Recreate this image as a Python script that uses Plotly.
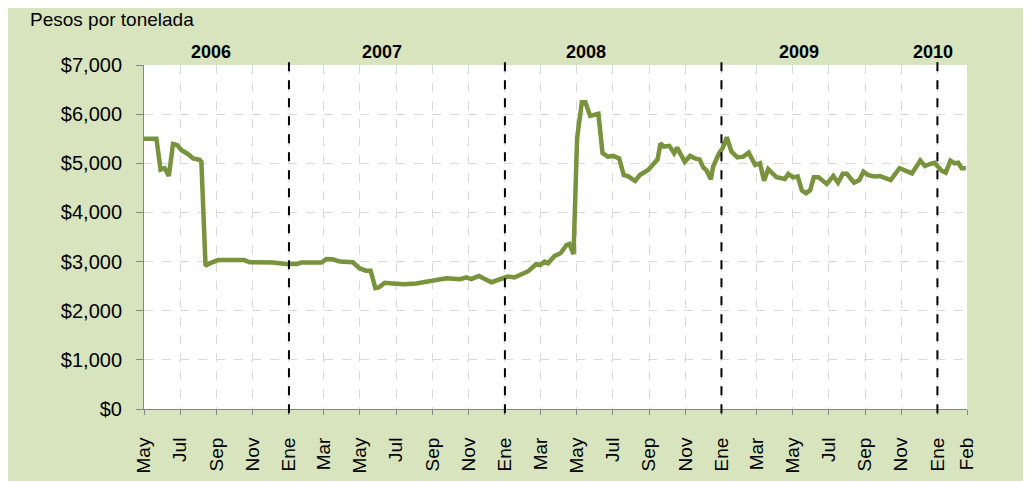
import plotly.graph_objects as go

# ---- data ----
dates = [
    "2006-05-01", "2006-05-22", "2006-05-29", "2006-06-05", "2006-06-12", "2006-06-19",
    "2006-06-26", "2006-07-03", "2006-07-14", "2006-07-23", "2006-08-03", "2006-08-06",
    "2006-08-13", "2006-08-20", "2006-09-03", "2006-10-04", "2006-10-10", "2006-10-17",
    "2006-10-27", "2006-12-05", "2006-12-28", "2007-01-14", "2007-01-22", "2007-02-25",
    "2007-03-05", "2007-03-16", "2007-03-28", "2007-04-19", "2007-04-30", "2007-05-11",
    "2007-05-19", "2007-05-27", "2007-06-02", "2007-06-12", "2007-06-26", "2007-07-13",
    "2007-08-04", "2007-08-21", "2007-09-07", "2007-09-24", "2007-10-17", "2007-10-28",
    "2007-11-05", "2007-11-18", "2007-12-09", "2007-12-26", "2008-01-06", "2008-01-17",
    "2008-01-26", "2008-02-09", "2008-02-23", "2008-03-01", "2008-03-08", "2008-03-14",
    "2008-03-25", "2008-04-04", "2008-04-14", "2008-04-19", "2008-04-26", "2008-05-02",
    "2008-05-10", "2008-05-16", "2008-05-24", "2008-06-07", "2008-06-14", "2008-06-23",
    "2008-07-02", "2008-07-12", "2008-07-20", "2008-07-27", "2008-08-08", "2008-08-16",
    "2008-08-30", "2008-09-08", "2008-09-15", "2008-09-20", "2008-09-26", "2008-10-05",
    "2008-10-13", "2008-10-18", "2008-10-31", "2008-11-09", "2008-11-17", "2008-11-25",
    "2008-12-01", "2008-12-07", "2008-12-14", "2008-12-18", "2008-12-28", "2009-01-03",
    "2009-01-10", "2009-01-18", "2009-01-28", "2009-02-07", "2009-02-16", "2009-02-27",
    "2009-03-07", "2009-03-14", "2009-03-21", "2009-04-04", "2009-04-18", "2009-04-24",
    "2009-05-02", "2009-05-10", "2009-05-17", "2009-05-24", "2009-05-31", "2009-06-06",
    "2009-06-14", "2009-06-28", "2009-07-09", "2009-07-17", "2009-07-25", "2009-08-01",
    "2009-08-13", "2009-08-22", "2009-08-29", "2009-09-06", "2009-09-17", "2009-09-26",
    "2009-10-04", "2009-10-14", "2009-10-29", "2009-11-07", "2009-11-19", "2009-12-03",
    "2009-12-11", "2009-12-19", "2009-12-27", "2010-01-08", "2010-01-15", "2010-01-23",
    "2010-01-30", "2010-02-05", "2010-02-11", "2010-02-18",
]
prices = [
    5500, 5500, 4870, 4900, 4740, 5390,
    5370, 5270, 5190, 5100, 5070, 5030,
    2910, 2965, 3030, 3030, 3020, 3030,
    2985, 2980, 2950, 2950, 2980, 2980,
    3050, 3045, 3000, 2985, 2865, 2815,
    2815, 2460, 2475, 2570, 2555, 2540,
    2555, 2590, 2635, 2660, 2640, 2680,
    2645, 2705, 2580, 2640, 2695, 2675,
    2725, 2800, 2950, 2930, 3000, 2965,
    3115, 3170, 3335, 3360, 3150, 5510,
    6240, 6240, 5965, 6005, 5205, 5135,
    5150, 5100, 4760, 4740, 4640, 4760,
    4865, 5000, 5080, 5405, 5340, 5355,
    5205, 5320, 5030, 5150, 5100, 5080,
    4920, 4850, 4675, 4935, 5205, 5305,
    5530, 5235, 5120, 5135, 5215, 4965,
    5000, 4645, 4880, 4715, 4680, 4785,
    4715, 4730, 4445, 4390, 4455, 4715,
    4715, 4580, 4740, 4605, 4785, 4785,
    4605, 4660, 4830, 4760, 4730, 4740,
    4695, 4660, 4900, 4865, 4795, 5055,
    4945, 4985, 5010, 4850, 4810, 5055,
    5000, 5010, 4900, 4900,
]

tick_dates = [
    "2006-05-01", "2006-07-01", "2006-09-01", "2006-11-01",
    "2007-01-01", "2007-03-01", "2007-05-01", "2007-07-01", "2007-09-01", "2007-11-01",
    "2008-01-01", "2008-03-01", "2008-05-01", "2008-07-01", "2008-09-01", "2008-11-01",
    "2009-01-01", "2009-03-01", "2009-05-01", "2009-07-01", "2009-09-01", "2009-11-01",
    "2010-01-01", "2010-02-20",
]
tick_labels = [
    "May", "Jul", "Sep", "Nov",
    "Ene", "Mar", "May", "Jul", "Sep", "Nov",
    "Ene", "Mar", "May", "Jul", "Sep", "Nov",
    "Ene", "Mar", "May", "Jul", "Sep", "Nov",
    "Ene", "Feb",
]
year_starts = ["2007-01-01", "2008-01-01", "2009-01-01", "2010-01-01"]
year_labels = ["2006", "2007", "2008", "2009", "2010"]
year_label_pos = ["2006-08-23", "2007-06-08", "2008-05-17", "2009-05-12", "2009-12-24"]

y_ticks = [0, 1000, 2000, 3000, 4000, 5000, 6000, 7000]
y_tick_text = ["$0", "$1,000", "$2,000", "$3,000", "$4,000", "$5,000", "$6,000", "$7,000"]

# ---- styling ----
GREEN_BG = "#D7E4BD"
LINE = "#77933C"
FONT = "Liberation Sans, Arial, sans-serif"

fig = go.Figure()
fig.add_trace(go.Scatter(
    x=dates, y=prices, mode="lines",
    line=dict(color=LINE, width=4.5),
    hoverinfo="x+y", showlegend=False,
))

shapes = []
for d in year_starts:
    shapes.append(dict(type="line", xref="x", yref="paper", x0=d, x1=d, y0=-0.012, y1=1.03,
                       line=dict(color="black", width=2, dash="dash"), layer="above"))

annotations = [
    dict(text="Pesos por tonelada", xref="paper", yref="paper", x=-0.1415, y=1.132,
         xanchor="left", yanchor="middle", showarrow=False,
         font=dict(family=FONT, size=19, color="black")),
]
for lbl, pos in zip(year_labels, year_label_pos):
    annotations.append(dict(text="<b>" + lbl + "</b>", xref="x", yref="paper", x=pos, y=1.038,
                            xanchor="center", yanchor="middle", showarrow=False,
                            font=dict(family=FONT, size=18, color="black")))

fig.update_layout(
    width=1031, height=481,
    margin=dict(l=136, r=72, t=57, b=80),
    paper_bgcolor=GREEN_BG,
    plot_bgcolor="white",
    font=dict(family=FONT, color="black"),
    shapes=shapes,
    annotations=annotations,
    xaxis=dict(
        type="date",
        range=["2006-05-01", "2010-02-20"],
        tickmode="array", tickvals=tick_dates, ticktext=tick_labels,
        tickangle=-90,
        tickfont=dict(family=FONT, size=19, color="black"),
        showgrid=True, gridcolor="#D9D9D9", griddash="dash", gridwidth=1,
        showline=True, linecolor="#868686", linewidth=1,
        ticks="outside", ticklen=5, tickcolor="#868686",
        ticklabelstandoff=15,
        zeroline=False,
    ),
    yaxis=dict(
        range=[0, 7000],
        tickmode="array", tickvals=y_ticks, ticktext=y_tick_text,
        tickfont=dict(family=FONT, size=20, color="black"),
        showgrid=True, gridcolor="#D9D9D9", griddash="dash", gridwidth=1,
        showline=True, linecolor="#868686", linewidth=1,
        ticks="outside", ticklen=7, tickcolor="#868686",
        ticklabelstandoff=10,
        zeroline=False,
    ),
)

fig.write_html("out.html")
